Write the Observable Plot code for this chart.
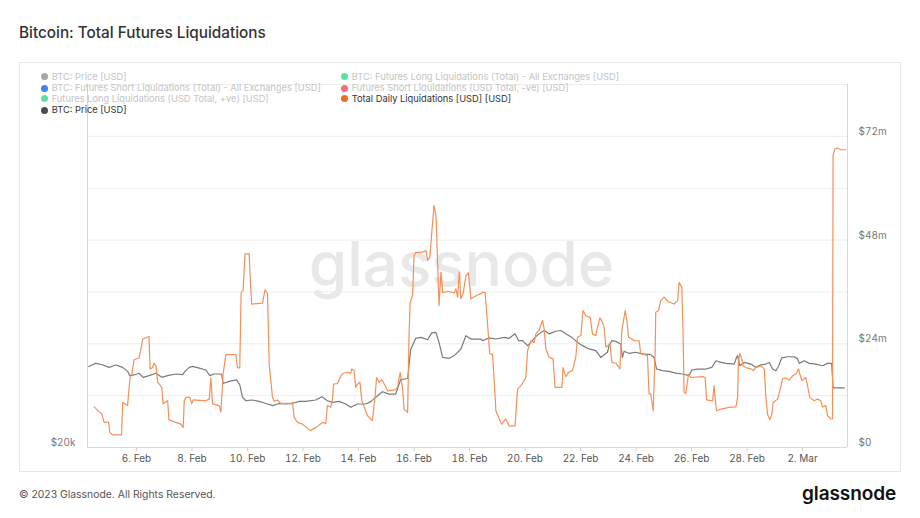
<!DOCTYPE html>
<html><head><meta charset="utf-8">
<script src="https://cdn.jsdelivr.net/npm/d3@7"></script>
<script src="https://cdn.jsdelivr.net/npm/@observablehq/plot@0.6"></script>
<style>
body{margin:0;width:920px;height:518px;background:#fff;font-family:Inter,"Noto Sans",sans-serif;position:relative;overflow:hidden}
#title{position:absolute;left:19px;top:23px;font-size:15.3px;line-height:19px;font-weight:500;color:#333;}
#frame{position:absolute;left:19px;top:62px;width:882px;height:410px;box-sizing:border-box;border:1px solid #e8e8e8;}
#chart{position:absolute;left:19px;top:62px;}
.leg{position:absolute;font-size:9.3px;line-height:12px;white-space:nowrap;}
.leg .dot{position:absolute;left:-11.2px;top:2.5px;width:7px;height:7px;border-radius:50%;}
#footer{position:absolute;left:19px;top:487px;font-size:10.4px;line-height:16px;color:#555}
#logo{position:absolute;left:802px;top:483px;font-size:19px;line-height:22px;font-weight:600;color:#111;letter-spacing:-0.1px}
</style></head>
<body>
<div id="title">Bitcoin: Total Futures Liquidations</div>
<div id="frame"></div>
<div id="chart"></div>
<div id="legend"></div>
<div id="footer">© 2023 Glassnode. All Rights Reserved.</div>
<div id="logo">glassnode</div>
<script>
// Total daily liquidations (rolling, USD millions); day = fractional day of Feb 2023 (29 = 1 Mar)
const liqDay = [
4.47,4.65,4.75,4.83,4.99,5.04,5.14,5.46,5.50,5.68,
5.71,5.77,5.83,5.91,6.09,6.15,6.22,6.45,6.49,6.58,
6.63,6.70,6.76,6.91,6.96,7.12,7.17,7.42,7.60,7.68,
7.72,7.78,7.92,7.99,8.04,8.50,8.62,8.68,8.74,8.98,
9.04,9.12,9.22,9.58,9.64,9.72,9.77,9.84,9.91,10.06,
10.09,10.15,10.54,10.63,10.72,10.78,10.90,10.96,11.08,11.20,
11.56,11.62,11.68,11.80,11.98,12.26,12.46,12.70,12.82,12.88,
13.00,13.06,13.10,13.24,13.40,13.57,13.72,13.76,13.84,13.90,
13.96,14.05,14.12,14.32,14.50,14.60,14.65,14.74,14.84,14.96,
15.05,15.34,15.41,15.50,15.59,15.64,15.77,15.82,15.86,15.95,
16.00,16.06,16.31,16.43,16.49,16.57,16.64,16.72,16.79,16.85,
16.90,16.97,17.03,17.26,17.45,17.51,17.57,17.63,17.69,17.77,
17.87,17.96,18.05,18.29,18.41,18.47,18.56,18.65,18.73,18.83,
18.89,18.95,19.07,19.16,19.31,19.43,19.64,19.73,19.85,19.97,
20.03,20.09,20.21,20.33,20.39,20.51,20.63,20.69,20.75,20.87,
21.01,21.08,21.33,21.37,21.47,21.57,21.71,21.83,21.89,22.01,
22.09,22.19,22.35,22.43,22.55,22.61,22.70,22.79,22.85,22.91,
23.06,23.13,23.27,23.42,23.49,23.61,23.67,23.73,23.85,23.93,
24.11,24.17,24.41,24.47,24.53,24.62,24.69,24.71,24.81,24.89,
25.01,25.14,25.37,25.50,25.55,25.65,25.70,25.73,25.79,25.89,
25.97,26.40,26.49,26.54,26.76,26.81,26.85,26.90,27.06,27.35,
27.60,27.66,27.69,27.74,27.81,27.86,27.96,28.14,28.22,28.32,
28.50,28.62,28.68,28.74,28.82,28.89,28.94,29.10,29.18,29.28,
29.40,29.52,29.64,29.76,29.86,29.90,29.98,30.12,30.18,30.26,
30.42,30.54,30.66,30.72,30.84,30.90,31.02,31.08,31.10,31.16,
31.25,31.38,31.56];
const liqValue = [
9.4,8.3,7.8,5.8,5.9,3.5,2.9,2.9,10.4,9.7,
12.2,16.2,17.0,20.3,20.7,22.4,25.1,25.7,18.2,18.5,
19.5,18.9,15.1,13.9,10.1,10.8,6.4,5.8,5.4,4.6,
10.8,11.6,11.6,10.1,11.0,10.8,11.2,16.1,10.1,9.7,
8.2,17.0,21.5,21.5,18.5,18.4,35.9,36.3,44.8,44.8,
40.2,33.2,33.4,36.5,35.6,19.3,11.6,10.7,11.0,10.2,
10.2,10.4,7.0,5.8,5.4,3.9,4.6,5.8,5.6,9.7,
9.3,11.2,14.7,14.8,17.0,17.4,17.2,18.2,17.8,13.9,
14.7,15.1,10.8,7.4,6.2,12.0,16.2,15.1,15.7,14.3,
13.1,13.4,14.1,17.4,13.5,8.9,8.1,25.9,33.6,35.2,
44.4,45.1,45.2,45.6,43.3,44.0,49.8,56.0,53.7,42.9,
32.8,40.6,35.9,36.1,35.8,36.7,34.8,40.6,34.4,35.6,
39.8,40.4,34.4,35.3,35.6,35.9,35.9,28.6,21.7,21.5,
15.5,8.5,6.6,5.4,6.6,5.0,5.0,13.5,14.3,15.5,
16.2,22.4,24.7,24.3,26.3,27.2,29.4,27.4,22.8,20.9,
20.5,13.9,13.9,18.5,16.4,17.4,17.8,20.9,25.5,25.9,
31.7,30.5,30.1,26.3,25.9,27.8,30.0,29.0,27.8,23.2,
24.0,19.7,19.5,18.2,27.1,31.7,29.4,25.5,25.1,24.7,
24.7,21.7,21.3,12.4,12.4,8.5,22.4,31.3,31.7,34.0,
34.8,33.8,33.2,34.0,38.2,37.1,24.7,12.8,12.4,17.0,
16.2,16.4,16.2,11.0,10.8,14.3,11.6,8.5,8.9,9.3,
9.4,11.6,19.7,21.8,20.5,18.9,18.5,18.2,17.8,18.5,
18.9,18.2,11.6,7.7,6.4,7.7,10.4,11.2,13.1,15.9,
16.1,15.6,16.6,17.0,18.2,17.0,15.5,16.2,14.3,11.6,
10.8,11.2,10.8,9.4,9.7,7.4,6.6,6.6,67.6,69.0,
69.3,68.9,68.9];

// BTC price (USD)
const priceDay = [
4.28,4.53,4.77,5.01,5.25,5.50,5.68,5.76,5.91,6.09,
6.24,6.45,6.70,6.91,7.12,7.42,7.66,7.75,7.90,8.02,
8.26,8.50,8.64,8.80,9.04,9.07,9.12,9.34,9.60,9.72,
9.82,9.94,10.18,10.42,10.66,10.92,11.14,11.38,11.62,11.86,
12.10,12.46,12.68,12.88,13.06,13.30,13.54,13.72,13.96,14.26,
14.44,14.62,14.86,15.10,15.34,15.52,15.77,15.88,16.06,16.25,
16.49,16.64,16.79,16.90,17.03,17.26,17.45,17.69,17.87,18.05,
18.41,18.47,18.71,18.95,19.25,19.43,19.64,19.77,19.91,20.09,
20.21,20.39,20.57,20.69,20.87,21.11,21.29,21.47,21.71,21.89,
22.07,22.31,22.55,22.73,22.97,23.03,23.13,23.27,23.45,23.51,
23.57,23.75,23.99,24.23,24.53,24.65,24.74,24.95,25.19,25.43,
25.68,25.91,26.01,26.22,26.52,26.73,26.88,27.06,27.24,27.54,
27.62,27.66,27.74,27.90,28.14,28.32,28.50,28.68,28.80,28.92,
29.04,29.14,29.25,29.46,29.70,29.82,29.88,30.06,30.24,30.48,
30.72,30.90,31.05,31.10,31.26,31.50];
const priceValue = [
23430,23560,23500,23390,23490,23390,23220,23040,23070,23140,
22970,23040,23140,22970,23040,23110,23080,23220,23390,23430,
23360,23280,23040,23110,23110,23080,22710,22800,22860,22660,
22120,21980,22010,21950,21860,21770,21860,21840,21860,21950,
21950,22010,22150,21980,21910,21950,21840,21700,21840,21840,
21940,22120,22360,22260,22260,22870,22920,24140,24620,24660,
24560,24850,24870,24450,23810,23770,23890,24170,24730,24590,
24590,24520,24640,24590,24660,24620,24810,24520,24520,24310,
24450,24690,24870,24950,24810,24920,24950,24810,24640,24450,
24310,24170,24100,23810,24030,24310,24520,24490,24380,23810,
24070,23980,24030,23960,23930,23810,23320,23250,23220,23150,
23110,23040,23280,23320,23320,23390,23670,23600,23560,23530,
23810,23890,23460,23600,23530,23390,23500,23530,23600,23320,
23250,23460,23790,23840,23840,23750,23560,23670,23560,23530,
23460,23560,23560,22520,22520,22520];

// axes
const xTickDays = [6,8,10,12,14,16,18,20,22,24,26,28,30];
const xTickLabels = ["6. Feb","8. Feb","10. Feb","12. Feb","14. Feb","16. Feb","18. Feb","20. Feb","22. Feb","24. Feb","26. Feb","28. Feb","2. Mar"];
const rightTicks = [0,24,48,72];           // USD millions
const rightTickLabels = ["$0","$24m","$48m","$72m"];
const gridValues = [12,24,36,48,60,72,84];  // USD millions
const liqMax = 84;                          // USD millions (top of axis)
const priceMin = 20000, priceMax = 35360;   // left axis range
const domainDays = [4.234, 31.62];

// legend
const legendItems = [
  {label:"BTC: Price [USD]", color:"#8e979d", active:false, col:0, row:0},
  {label:"BTC: Futures Short Liquidations (Total) - All Exchanges [USD]", color:"#1e6ff0", active:false, col:0, row:1},
  {label:"Futures Long Liquidations (USD Total, +ve) [USD]", color:"#3fdc95", active:false, col:0, row:2},
  {label:"BTC: Price [USD]", color:"#4a4a4a", active:true, col:0, row:3},
  {label:"BTC: Futures Long Liquidations (Total) - All Exchanges [USD]", color:"#3fdc95", active:false, col:1, row:0},
  {label:"Futures Short Liquidations (USD Total, -ve) [USD]", color:"#f2545b", active:false, col:1, row:1},
  {label:"Total Daily Liquidations [USD] [USD]", color:"#f26b21", active:true, col:1, row:2}
];

const toDate = d => new Date(Date.UTC(2023, 1, 1) + (d - 1) * 864e5);
const liq = liqDay.map((d, i) => ({date: toDate(d), v: liqValue[i] * 1e6}));
const YMAX = liqMax * 1e6;
const price = priceDay.map((d, i) => ({date: toDate(d), v: (priceValue[i] - priceMin) / (priceMax - priceMin) * YMAX}));
const x0 = toDate(domainDays[0]), x1 = toDate(domainDays[1]);
const tickDates = xTickDays.map(toDate);
const xLabel = new Map(tickDates.map((d, i) => [+d, xTickLabels[i]]));
const rLabel = new Map(rightTicks.map((v, i) => [v * 1e6, rightTickLabels[i]]));

const chart = Plot.plot({
  width: 882, height: 410,
  marginLeft: 68, marginRight: 54, marginTop: 22, marginBottom: 25,
  style: {fontFamily: "Inter, sans-serif", fontSize: "10px", color: "#666", background: "transparent", overflow: "visible"},
  x: {type: "utc", domain: [x0, x1], label: null},
  y: {domain: [0, YMAX], label: null},
  marks: [
    Plot.ruleY(gridValues.map(v => v * 1e6), {stroke: "#ececec"}),
    Plot.text(["glassnode"], {frameAnchor: "middle", fontSize: 62, fontWeight: 500, fill: "#e8e8e8", dx: -6}),
    Plot.ruleX([x0], {stroke: "#d5d5d5"}),
    Plot.ruleX([x1], {stroke: "#f9c8c8"}),
    Plot.ruleY([0], {stroke: "#d8d8d8"}),
    Plot.axisX({ticks: tickDates, tickFormat: d => xLabel.get(+d), tickSize: 4, tickPadding: 3, stroke: "#cfcfcf", fill: "#555", label: null}),
    Plot.axisY({anchor: "right", ticks: rightTicks.map(v => v * 1e6), tickFormat: v => rLabel.get(v), tickSize: 0, tickPadding: 11, dy: -4.5, fill: "#777", label: null}),
    Plot.axisY({anchor: "left", ticks: [0], tickFormat: () => "$20k", tickSize: 0, tickPadding: 12, dy: -4.5, fill: "#777", label: null}),
    Plot.line(price, {x: "date", y: "v", stroke: "#7a7a7a", strokeWidth: 1.2}),
    Plot.line(liq, {x: "date", y: "v", stroke: "#f68f58", strokeWidth: 1.2})
  ]
});
document.getElementById("chart").appendChild(chart);

const legend = document.getElementById("legend");
const colX = [51.7, 351.7], rowY = [70.7, 82, 92.7, 104];
legendItems.forEach(it => {
  const div = document.createElement("div");
  div.className = "leg";
  div.style.left = colX[it.col] + "px";
  div.style.top = rowY[it.row] + "px";
  div.style.color = it.active ? "#333" : "#c4c4c4";
  const dot = document.createElement("span");
  dot.className = "dot";
  dot.style.background = it.color;
  if (!it.active) dot.style.opacity = 0.85;
  div.appendChild(dot);
  div.appendChild(document.createTextNode(it.label));
  legend.appendChild(div);
});
</script>
</body></html>
